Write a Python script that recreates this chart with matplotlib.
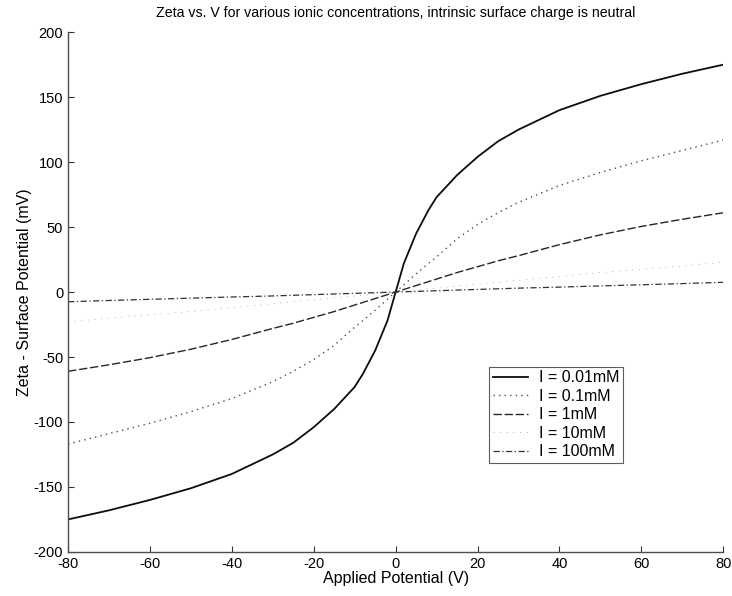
import numpy as np
import matplotlib.pyplot as plt

# ─── Data ────────────────────────────────────────────────────────────────────
V = [-80, -70, -60, -50, -40, -30, -25, -20, -15, -10, -8, -5, -2, 0,
     2, 5, 8, 10, 15, 20, 25, 30, 40, 50, 60, 70, 80]

zeta_001 = [-175, -168, -160, -151, -140, -125, -116, -104, -90, -73, -63, -45, -22, 0,
            22, 45, 63, 73, 90, 104, 116, 125, 140, 151, 160, 168, 175]
zeta_01 = [-117, -109, -101, -92, -82, -69, -61, -52, -41, -27, -22, -14, -5.5, 0,
           5.5, 14, 22, 27, 41, 52, 61, 69, 82, 92, 101, 109, 117]
zeta_1 = [-61, -56, -50.5, -44, -36.5, -28, -24, -19.5, -15, -10, -8, -5, -2, 0,
          2, 5, 8, 10, 15, 19.5, 24, 28, 36.5, 44, 50.5, 56, 61]
zeta_10 = [-23, -20, -17.5, -15, -12, -9, -7.5, -6, -4.5, -3, -2.5, -1.5, -0.6, 0,
           0.6, 1.5, 2.5, 3, 4.5, 6, 7.5, 9, 12, 15, 17.5, 20, 23]
zeta_100 = [-7.5, -6.5, -5.6, -4.7, -3.8, -3, -2.5, -2, -1.5, -1, -0.8, -0.5, -0.2, 0,
            0.2, 0.5, 0.8, 1, 1.5, 2, 2.5, 3, 3.8, 4.7, 5.6, 6.5, 7.5]

labels = ["I = 0.01mM", "I = 0.1mM", "I = 1mM", "I = 10mM", "I = 100mM"]

# ─── Styles ──────────────────────────────────────────────────────────────────
styles = [
    dict(color="0.05", lw=1.3, ls="-"),
    dict(color="0.3", lw=1.0, ls=(0, (1, 3))),
    dict(color="0.15", lw=1.0, ls=(0, (6, 2))),
    dict(color="0.6", lw=0.6, ls=(0, (1, 7))),
    dict(color="0.2", lw=0.9, ls=(0, (5, 2, 1, 2))),
]

plt.rcParams["font.family"] = ["Liberation Sans", "DejaVu Sans"]
plt.rcParams["axes.unicode_minus"] = False

fig = plt.figure(figsize=(7.32, 5.96), dpi=100)
ax = fig.add_axes([0.093, 0.074, 0.895, 0.872])

for y, lab, st in zip([zeta_001, zeta_01, zeta_1, zeta_10, zeta_100], labels, styles):
    ax.plot(V, y, label=lab, **st)

ax.set_xlim(-80, 80)
ax.set_ylim(-200, 200)
ax.set_xticks(np.arange(-80, 81, 20))
ax.set_yticks(np.arange(-200, 201, 50))

for s in ["top", "right"]:
    ax.spines[s].set_visible(False)
for s in ["left", "bottom"]:
    ax.spines[s].set_color("0.3")
    ax.spines[s].set_linewidth(1.0)

ax.tick_params(direction="in", length=4, width=0.8, labelsize=10.5, color="0.2")

ax.set_title("Zeta vs. V for various ionic concentrations, intrinsic surface charge is neutral",
             fontsize=10.2, pad=11)
ax.set_xlabel("Applied Potential (V)", fontsize=11.5, labelpad=0)
ax.set_ylabel("Zeta - Surface Potential (mV)", fontsize=11.5, labelpad=1)

leg = ax.legend(loc="lower left", bbox_to_anchor=(0.643, 0.172), fontsize=11.5,
                frameon=True, fancybox=False, handlelength=2.2, handletextpad=0.7,
                labelspacing=0.22, borderpad=0.2, borderaxespad=0)
leg.get_frame().set_edgecolor("0.2")
leg.get_frame().set_linewidth(0.8)

plt.savefig("out.png", dpi=100)
